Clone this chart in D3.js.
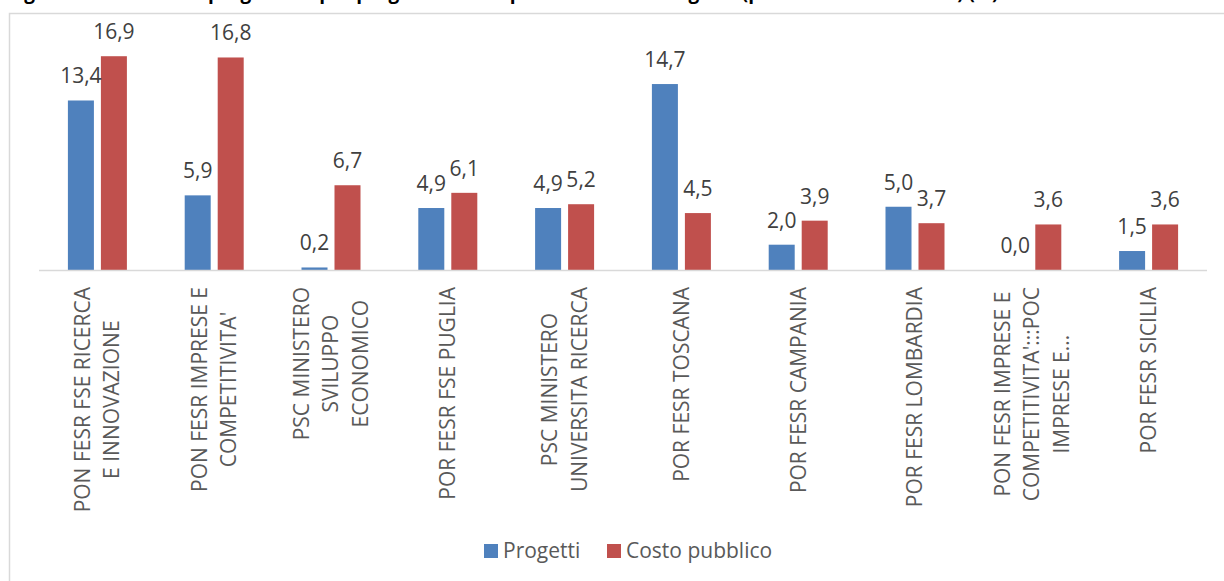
<!DOCTYPE html>
<html>
<head>
<meta charset="utf-8">
<script src="https://cdn.jsdelivr.net/npm/d3@7"></script>
<style>
  body { margin: 0; background: #fff; }
  svg { display: block; font-family: "Open Sans", sans-serif; }
</style>
</head>
<body>
<div class="svg"></div>
<script>
var categories = [
    ["PON FESR FSE RICERCA", "E INNOVAZIONE"],
    ["PON FESR IMPRESE E", "COMPETITIVITA'"],
    ["PSC MINISTERO", "SVILUPPO", "ECONOMICO"],
    ["POR FESR FSE PUGLIA"],
    ["PSC MINISTERO", "UNIVERSITA RICERCA"],
    ["POR FESR TOSCANA"],
    ["POR FESR CAMPANIA"],
    ["POR FESR LOMBARDIA"],
    ["PON FESR IMPRESE E", "COMPETITIVITA':::POC", "IMPRESE E..."],
    ["POR FESR SICILIA"]
];
var series = ["Progetti", "Costo pubblico"];
var progetti = [13.4, 5.9, 0.2, 4.9, 4.9, 14.7, 2.0, 5.0, 0.0, 1.5];
var costoPubblico = [16.9, 16.8, 6.7, 6.1, 5.2, 4.5, 3.9, 3.7, 3.6, 3.6];
var colors = ["#4F81BD", "#C0504D"];
var title = "Figura 8 – Primi dieci programmi per progetti e costo pubblico della categoria (percentuale sul totale) (%)";

var width = 1224;
var height = 581;

var svg = d3.select('div.svg')
    .append('svg')
    .attr('width', width)
    .attr('height', height)

// title, mostly cut by the top edge of the picture as in the original
svg.append('text')
    .attr('x', 8)
    .attr('y', -1)
    .attr('font-size', 19)
    .attr('font-weight', 'bold')
    .attr('fill', '#000')
    .text(title)

// chart frame
svg.append('path')
    .attr('d', 'M9.5,' + height + 'V13.5H' + width)
    .attr('fill', 'none')
    .attr('stroke', '#D9D9D9')
    .attr('stroke-width', 1.5)

var x0 = d3.scaleBand()
    .domain(d3.range(categories.length))
    .range([39, 1207])
    .padding(0)

var x1 = d3.scaleBand()
    .domain(series)
    .range([x0.bandwidth() / 2 - 29.5, x0.bandwidth() / 2 + 29.5])
    .paddingInner(0.212)

var y = d3.scaleLinear()
    .domain([0, 20])
    .range([270, 17])

var rows = categories.map(function (c, i) {
    return [progetti[i], costoPubblico[i]];
});

var groups = svg.append('g')
    .selectAll('g')
    .data(rows)
    .enter()
    .append('g')
    .attr('transform', function (d, i) {
        return 'translate(' + x0(i) + ',0)';
    })

groups.selectAll('rect')
    .data(d => d)
    .enter()
    .append('rect')
    .attr('x', (d, j) => x1(series[j]))
    .attr('y', d => y(d))
    .attr('width', x1.bandwidth())
    .attr('height', d => y(0) - y(d))
    .attr('fill', (d, j) => colors[j])

groups.selectAll('text')
    .data(d => d)
    .enter()
    .append('text')
    .attr('x', (d, j) => x1(series[j]) + x1.bandwidth() / 2)
    .attr('y', d => y(d) - 17)
    .attr('text-anchor', 'middle')
    .attr('font-size', 21)
    .attr('fill', '#404040')
    .text(d => d.toFixed(1).replace('.', ','))

// axis line
svg.append('line')
    .attr('x1', x0.range()[0])
    .attr('x2', x0.range()[1])
    .attr('y1', y(0) + 0.5)
    .attr('y2', y(0) + 0.5)
    .attr('stroke', '#D9D9D9')
    .attr('stroke-width', 1.5)

// category labels, rotated
var lineStep = 29.5;
categories.forEach(function (lines, i) {
    var g = svg.append('g')
        .attr('transform', 'translate(' + (x0(i) + x0.bandwidth() / 2) + ',287) rotate(-90)');
    var texts = lines.map(function (t, k) {
        return g.append('text')
            .attr('y', (k - (lines.length - 1) / 2) * lineStep)
            .attr('dy', '0.35em')
            .attr('text-anchor', 'middle')
            .attr('font-size', 21)
            .attr('fill', '#595959')
            .text(t);
    });
    var maxLen = d3.max(texts, t => t.node().getComputedTextLength());
    texts.forEach(t => t.attr('x', -maxLen / 2));
});

// legend
var legend = svg.append('g')
    .attr('transform', 'translate(484,551)')
var legendX = [0, 123];
series.forEach(function (s, j) {
    legend.append('rect')
        .attr('x', legendX[j])
        .attr('y', -7)
        .attr('width', 14)
        .attr('height', 14)
        .attr('fill', colors[j])
    legend.append('text')
        .attr('x', legendX[j] + 19)
        .attr('y', 0)
        .attr('dy', '0.35em')
        .attr('font-size', 21)
        .attr('fill', '#595959')
        .text(s)
});
</script>
</body>
</html>
